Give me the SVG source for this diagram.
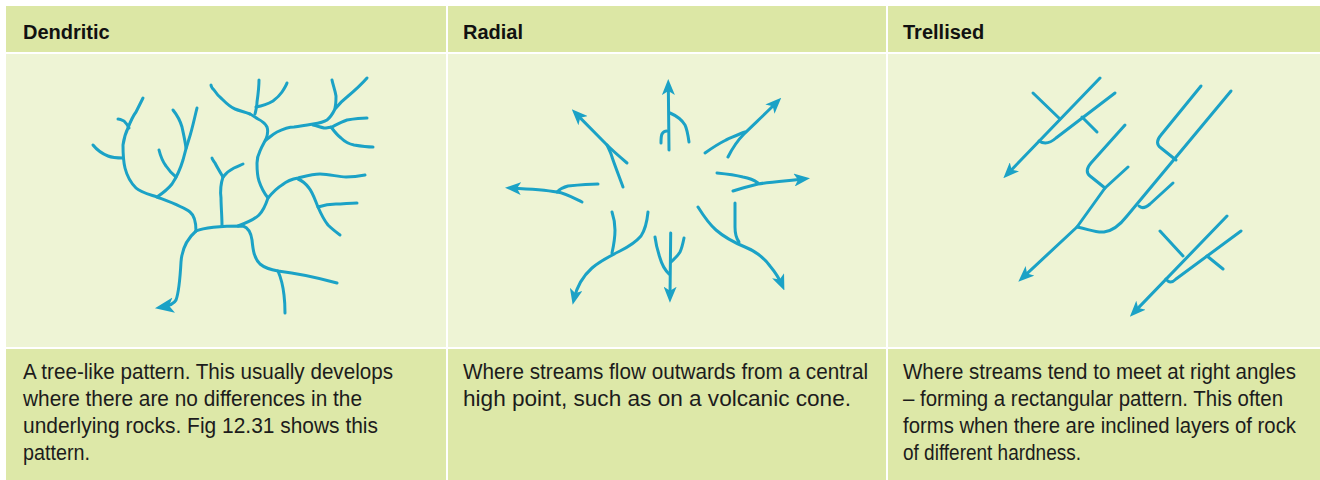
<svg xmlns="http://www.w3.org/2000/svg" width="1320" height="480" viewBox="0 0 1320 480">
  <style>
    .hdr { fill: #dce7a5; }
    .pane { fill: #eef4d5; }
    .cap { fill: #dde8a8; }
    .title { font-family: "Liberation Sans", Arial, sans-serif; font-weight: bold; font-size: 20px; fill: #111; }
    .body { font-family: "Liberation Sans Narrow", "Liberation Sans", Arial, sans-serif; font-size: 21.5px; fill: #1c1c1c; }
    .river { fill: none; stroke: #1ba2c6; stroke-width: 3; stroke-linecap: round; stroke-linejoin: round; }
    .flow { marker-end: url(#head); }
    .flowL { marker-end: url(#headL); }
  </style>
  <defs>
    <marker id="head" viewBox="0 0 16 13" markerWidth="16" markerHeight="13" refX="10" refY="6.5" orient="auto" markerUnits="userSpaceOnUse">
      <path d="M0,0 L16,6.5 L0,13 L4,6.5 Z" fill="#1ba2c6"/>
    </marker>
    <marker id="headL" viewBox="0 0 16 13" markerWidth="19" markerHeight="16" refX="10" refY="6.5" orient="auto" markerUnits="userSpaceOnUse">
      <path d="M0,0 L16,6.5 L0,13 L4,6.5 Z" fill="#1ba2c6"/>
    </marker>
  </defs>

  <rect width="1320" height="480" fill="#ffffff"/>

  <!-- table cells -->
  <g id="table">
    <rect class="hdr" x="6" y="6" width="440" height="46"/>
    <rect class="hdr" x="448" y="6" width="438" height="46"/>
    <rect class="hdr" x="888" y="6" width="432" height="46"/>
    <rect class="pane" x="6" y="54" width="440" height="293"/>
    <rect class="pane" x="448" y="54" width="438" height="293"/>
    <rect class="pane" x="888" y="54" width="432" height="293"/>
    <rect class="cap" x="6" y="349" width="440" height="131"/>
    <rect class="cap" x="448" y="349" width="438" height="131"/>
    <rect class="cap" x="888" y="349" width="432" height="131"/>
  </g>

  <!-- column 1: dendritic drainage -->
  <g id="dendritic">
    <text class="title" x="23" y="39">Dendritic</text>
    <g class="river">
      <!-- trunk to outlet -->
      <path class="flowL" d="M196,231 C188,238 182,248 181,262 C180,280 179,292 176,300 C174,304 168,306 162,307"/>
      <!-- lower right branch -->
      <path d="M196,231 C205,227 222,226 243,226 C249,228 251,233 252,240 C253,250 254,258 260,264 C266,269 272,270 278,271 C295,273 315,277 337,283"/>
      <path d="M278,271 C281,278 283,286 284,295 C285,303 285,308 285,313"/>
      <!-- upper left system -->
      <path d="M196,231 C196,224 195,216 190,212 C184,207 170,202 157,197 C148,194 140,192 136,188 C130,182 127,176 125,168 C123,160 123,152 123,145 C124,138 126,132 128,128 C131,120 133,116 136,112 C139,106 141,102 143,98"/>
      <path d="M123,158 C118,158 113,158 108,156 C103,154 97,150 93,145"/>
      <path d="M129,128 C128,125 126,123 124,121 C122,120 120,119 118,119"/>
      <path d="M157,197 C163,193 168,189 172,184 C176,178 180,170 183,160 C185,152 187,145 189,139 C192,130 194,120 197,108"/>
      <path d="M176,177 C171,173 168,169 166,166 C163,162 161,158 159,150"/>
      <path d="M186,148 C185,140 183,132 182,127 C180,120 177,115 173,110"/>
      <!-- central branch -->
      <path d="M222,226 C222,216 221,206 221,198 C220,190 221,183 223,177"/>
      <path d="M223,177 C220,172 217,167 215,163 C213,160 212,159 212,158"/>
      <path d="M223,177 C226,173 230,170 234,168 C238,166 241,165 243,164"/>
      <!-- right system -->
      <path d="M238,226 C246,223 254,220 259,215 C264,210 266,204 268,198 C273,192 277,188 282,185 C287,181 292,179 298,178 C306,176 312,174 320,174 C330,174 338,177 346,177 C354,177 360,176 365,175"/>
      <path d="M298,179 C303,181 306,184 309,188 C313,193 315,200 318,207 C321,214 324,220 328,225 C332,229 336,232 340,235"/>
      <path d="M318,207 C324,205 330,204 336,204 C343,204 350,203 357,203"/>
      <path d="M268,198 C264,193 261,187 259,181 C257,175 257,168 257,163 C257,158 258,155 260,151 C262,146 264,143 266,139 C268,134 268,130 267,127 C265,123 262,121 258,119 C255,117 252,115 250,114"/>
      <path d="M250,114 C245,112 240,111 235,109 C230,107 226,103 222,99 C218,96 216,93 214,90 C212,88 211,86 211,85"/>
      <path d="M255,114 C256,110 257,106 257,102 C258,95 259,88 259,80"/>
      <path d="M256,107 C262,106 268,104 273,101 C277,98 280,95 282,92 C284,89 286,86 287,83"/>
      <path d="M266,140 C270,137 273,134 277,132 C283,129 288,127 294,127 C301,126 307,125 313,124 C320,123 324,122 327,120 C331,117 333,113 335,109 C339,104 343,100 347,97 C353,92 360,86 367,78"/>
      <path d="M335,108 C336,104 336,100 336,96 C335,90 333,85 332,80"/>
      <path d="M313,125 C317,126 320,127 324,128 C327,128 330,127 332,127 C336,125 341,122 347,120 C353,119 360,118 367,118"/>
      <path d="M331,127 C334,131 337,135 341,138 C345,142 349,144 354,145 C360,146 366,147 373,147"/>
    </g>
  </g>

  <!-- column 2: radial drainage -->
  <g id="radial">
    <text class="title" x="463" y="39">Radial</text>
    <g class="river">
      <!-- north -->
      <path class="flow" d="M669,150 L668.3,85"/>
      <path d="M689,142 C688,135 687,129 685,125 C682,120 677,116 670,113"/>
      <path d="M661,143 C661,139 661,136 662,134 C663,132 665,131 667,131"/>
      <!-- north-west -->
      <path class="flow" d="M627,163 C620,157 613,151 607,145 L576,113.6"/>
      <path d="M607,145 C609,149 611,153 612,157 C615,166 619,176 623,187"/>
      <!-- west -->
      <path class="flow" d="M582,202 C572,197 565,193 557,192 C545,190 530,189 511,188"/>
      <path d="M557,192 C560,189 564,187 568,186 C578,185 588,184 598,184"/>
      <!-- south-west -->
      <path class="flow" d="M648,212 C647,222 645,230 641,236 C635,243 628,247 620,251 C610,256 600,261 592,268 C583,276 577,286 574,299"/>
      <path d="M612,212 C614,218 615,224 615,230 C615,238 614,244 612,253"/>
      <!-- south -->
      <path class="flow" d="M670.7,233 L670,296.7"/>
      <path d="M655,237 C656,245 658,252 660,258 C662,265 665,270 669,274"/>
      <path d="M684,238 C683,243 682,248 680,252 C677,257 674,259 671,262"/>
      <!-- south-east -->
      <path class="flow" d="M698,207 C703,215 708,223 716,230 C724,237 733,242 745,247 C755,251 764,258 770,266 C775,272 779,278 782,285"/>
      <path d="M735,203 C735,211 735,219 735,227 C735,233 736,238 739,242"/>
      <!-- east -->
      <path class="flow" d="M733,191 C742,188 750,186 758,184 C770,182 785,181 804,179"/>
      <path d="M717,173 C727,174 735,175 743,177 C749,178 754,180 758,183"/>
      <!-- north-east -->
      <path class="flow" d="M728,157 C732,149 737,141 744,134 C752,126 764,115 777,102"/>
      <path d="M705,153 C712,148 718,144 726,140 C733,137 739,134 745,132"/>
    </g>
  </g>

  <!-- column 3: trellised drainage -->
  <g id="trellised">
    <text class="title" x="903" y="39">Trellised</text>
    <g class="river">
      <!-- upper left set -->
      <path class="flow" d="M1100,78 L1007.5,174"/>
      <path d="M1033,93 L1060,119"/>
      <path d="M1115,93 L1056,138 Q1047,146 1039,141"/>
      <path d="M1082,117 L1097,132"/>
      <!-- central set -->
      <path d="M1125,125 L1091,163 Q1084,171 1090,176 L1105,188"/>
      <path class="flow" d="M1128,167 L1105,188 L1077,227 L1022.7,277.6"/>
      <path d="M1201,86 L1161,135 Q1154,143 1161,148 L1176,160"/>
      <path d="M1231,91 L1127,216 C1120,225 1112,231 1104,232 C1096,233 1088,229 1077,227"/>
      <path d="M1173,183 L1150,204 Q1143,210 1139,206"/>
      <!-- lower right set -->
      <path class="flow" d="M1227,216 L1134,312.4"/>
      <path d="M1160,231 L1183,256"/>
      <path d="M1241,231 L1176,279 Q1170,285 1166,279"/>
      <path d="M1207,256 L1223,269"/>
    </g>
  </g>

  <!-- captions -->
  <g id="captions" class="body">
    <text x="23" y="379" textLength="370" lengthAdjust="spacingAndGlyphs">A tree-like pattern. This usually develops</text>
    <text x="23" y="406" textLength="339" lengthAdjust="spacingAndGlyphs">where there are no differences in the</text>
    <text x="23" y="433" textLength="355" lengthAdjust="spacingAndGlyphs">underlying rocks. Fig 12.31 shows this</text>
    <text x="23" y="460" textLength="67" lengthAdjust="spacingAndGlyphs">pattern.</text>
    <text x="463" y="379" textLength="405" lengthAdjust="spacingAndGlyphs">Where streams flow outwards from a central</text>
    <text x="463" y="406" textLength="388" lengthAdjust="spacingAndGlyphs">high point, such as on a volcanic cone.</text>
    <text x="903" y="379" textLength="393" lengthAdjust="spacingAndGlyphs">Where streams tend to meet at right angles</text>
    <text x="903" y="406" textLength="380" lengthAdjust="spacingAndGlyphs">– forming a rectangular pattern. This often</text>
    <text x="903" y="433" textLength="393" lengthAdjust="spacingAndGlyphs">forms when there are inclined layers of rock</text>
    <text x="903" y="460" textLength="178" lengthAdjust="spacingAndGlyphs">of different hardness.</text>
  </g>
</svg>
